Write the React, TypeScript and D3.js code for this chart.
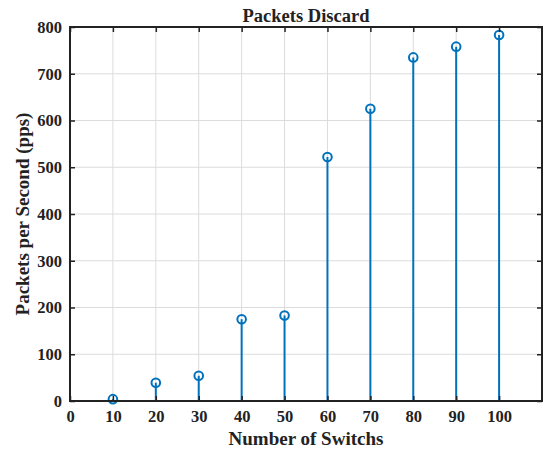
import React, { useEffect, useRef } from 'react';
import * as d3 from 'd3';

// stem plot, MATLAB look
const switches = [10, 20, 30, 40, 50, 60, 70, 80, 90, 100];
const packets = [4, 39, 54, 175, 183, 522, 625, 735, 758, 783];
const xTicks = [0, 10, 20, 30, 40, 50, 60, 70, 80, 90, 100];
const yTicks = [0, 100, 200, 300, 400, 500, 600, 700, 800];

const width = 547;
const height = 453;
const margin = { top: 27, right: 5, bottom: 52, left: 70 };
const font = '"Liberation Serif", "Times New Roman", serif';
const blue = '#0072BD';

const App = () => {
  const chartRef = useRef<SVGSVGElement>(null);

  useEffect(() => {
    const svg = d3.select(chartRef.current);
    svg.selectAll('*').remove();

    const x = d3.scaleLinear().domain([0, 110]).range([margin.left, width - margin.right]);
    const y = d3.scaleLinear().domain([0, 800]).range([height - margin.bottom, margin.top]);
    const [x0, x1] = x.range();
    const [y0, y1] = y.range();

    svg.append('rect')
      .attr('x', x0).attr('y', y1)
      .attr('width', x1 - x0).attr('height', y0 - y1)
      .attr('fill', '#fff');

    // grid
    const grid = svg.append('g').attr('stroke', '#dcdcdc').attr('stroke-width', 1);
    grid.selectAll('.gx').data(xTicks.slice(1)).join('line')
      .attr('x1', d => x(d)).attr('x2', d => x(d))
      .attr('y1', y0).attr('y2', y1);
    grid.selectAll('.gy').data(yTicks.slice(1)).join('line')
      .attr('y1', d => y(d)).attr('y2', d => y(d))
      .attr('x1', x0).attr('x2', x1);

    // stems
    svg.append('g')
      .selectAll('line')
      .data(switches)
      .join('line')
      .attr('x1', d => x(d)).attr('x2', d => x(d))
      .attr('y1', y(0))
      .attr('y2', (d, i) => y(packets[i]))
      .attr('stroke', blue)
      .attr('stroke-width', 2);

    svg.append('g')
      .selectAll('circle')
      .data(switches)
      .join('circle')
      .attr('cx', d => x(d))
      .attr('cy', (d, i) => y(packets[i]))
      .attr('r', 4.3)
      .attr('fill', 'none')
      .attr('stroke', blue)
      .attr('stroke-width', 2);

    // axes, ticks pointing inward on all sides
    const xAxis = d3.axisBottom(x).tickValues(xTicks).tickSize(-5).tickPadding(9);
    const yAxis = d3.axisLeft(y).tickValues(yTicks).tickSize(-5).tickPadding(8);

    svg.append('g')
      .attr('transform', `translate(0, ${y0})`)
      .call(xAxis)
      .call(g => g.select('.domain').remove());
    svg.append('g')
      .attr('transform', `translate(0, ${y1})`)
      .call(d3.axisTop(x).tickValues(xTicks).tickSize(-5).tickFormat(() => ''))
      .call(g => g.select('.domain').remove());
    svg.append('g')
      .attr('transform', `translate(${x0}, 0)`)
      .call(yAxis)
      .call(g => g.select('.domain').remove());
    svg.append('g')
      .attr('transform', `translate(${x1}, 0)`)
      .call(d3.axisRight(y).tickValues(yTicks).tickSize(-5).tickFormat(() => ''))
      .call(g => g.select('.domain').remove());

    svg.selectAll('.tick line').attr('stroke', '#222').attr('stroke-width', 1.5);
    svg.selectAll('.tick text')
      .attr('font-family', font)
      .attr('font-weight', 'bold')
      .attr('font-size', 16.5)
      .attr('fill', '#222');

    svg.append('rect')
      .attr('x', x0).attr('y', y1)
      .attr('width', x1 - x0).attr('height', y0 - y1)
      .attr('fill', 'none')
      .attr('stroke', '#222')
      .attr('stroke-width', 2);

    // labels
    svg.append('text')
      .attr('x', (x0 + x1) / 2).attr('y', 22)
      .attr('text-anchor', 'middle')
      .attr('font-family', font).attr('font-weight', 'bold').attr('font-size', 18.5)
      .attr('fill', '#222')
      .text('Packets Discard');

    svg.append('text')
      .attr('x', (x0 + x1) / 2).attr('y', 445)
      .attr('text-anchor', 'middle')
      .attr('font-family', font).attr('font-weight', 'bold').attr('font-size', 19)
      .attr('fill', '#222')
      .text('Number of Switchs');

    svg.append('text')
      .attr('transform', `translate(29, ${(y0 + y1) / 2}) rotate(-90)`)
      .attr('text-anchor', 'middle')
      .attr('font-family', font).attr('font-weight', 'bold').attr('font-size', 19)
      .attr('fill', '#222')
      .text('Packets per Second (pps)');
  });

  return (
    <svg
      ref={chartRef}
      width={width}
      height={height}
      viewBox={`0 0 ${width} ${height}`}
      style={{ position: 'absolute', left: 0, top: 0, background: '#fff' }}
    />
  );
};

export default App;
